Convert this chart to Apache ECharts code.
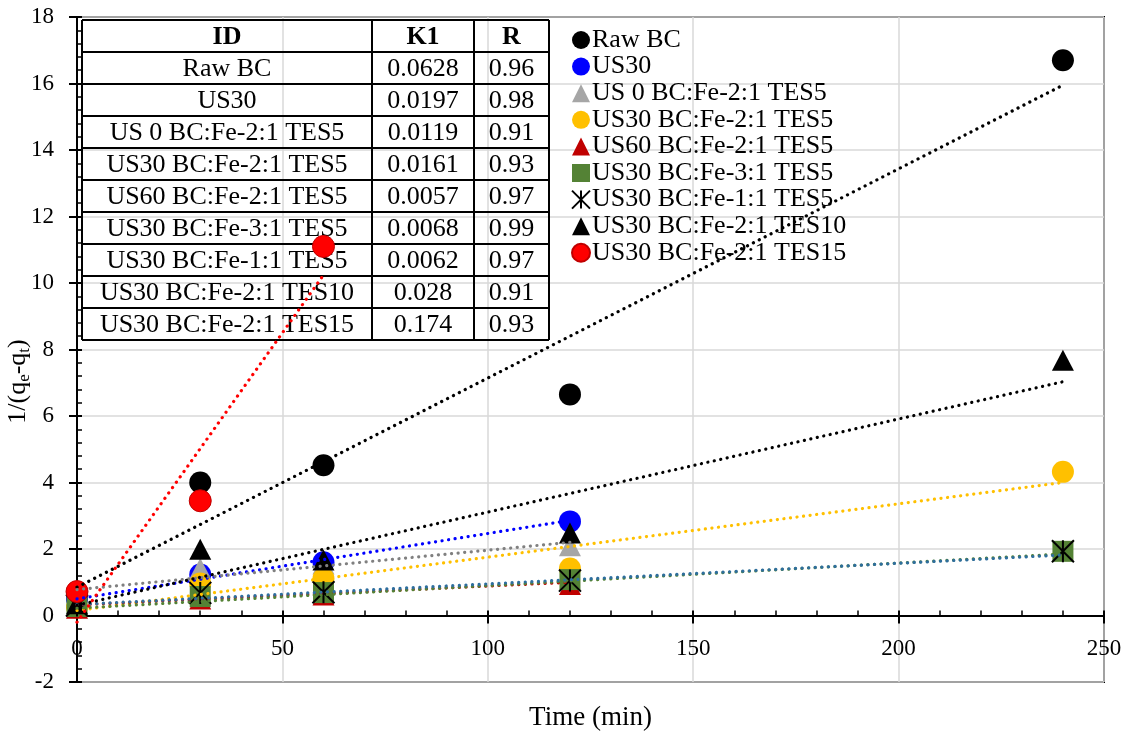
<!DOCTYPE html>
<html><head><meta charset="utf-8">
<script src="https://cdn.jsdelivr.net/npm/echarts@6/dist/echarts.min.js"></script>
<style>html,body{margin:0;padding:0;background:#fff}#c{width:1126px;height:733px}</style>
</head><body><div id="c"></div>
<script>
// ---------- data ----------
const seriesNames = ['Raw BC','US30','US 0 BC:Fe-2:1 TES5','US30 BC:Fe-2:1 TES5','US60 BC:Fe-2:1 TES5','US30 BC:Fe-3:1 TES5','US30 BC:Fe-1:1 TES5','US30 BC:Fe-2:1 TES10','US30 BC:Fe-2:1 TES15'];
const timeFull = [0, 30, 60, 120, 240];
const timeTo120 = [0, 30, 60, 120];
const timeTo60 = [0, 30, 60];
const rawBC = [0.65, 4.0, 4.52, 6.65, 16.7];
const us30 = [0.5, 1.23, 1.6, 2.83];
const us0Fe21Tes5 = [0.6, 1.41, 1.55, 2.1];
const us30Fe21Tes5 = [0.25, 0.96, 1.11, 1.41, 4.32];
const us60Fe21Tes5 = [0.22, 0.5, 0.62, 0.93];
const us30Fe31Tes5 = [0.27, 0.57, 0.69, 1.08, 1.93];
const us30Fe11Tes5 = [0.3, 0.68, 0.7, 1.05, 1.93];
const us30Fe21Tes10 = [0.35, 1.99, 1.67, 2.48, 7.68];
const us30Fe21Tes15 = [0.72, 3.45, 11.1];
// trendline values at first and last time
const trendStart = [0.85, 0.5, 0.78, 0.15, 0.32, 0.22, 0.33, 0.31, -0.2];
const trendEnd = [15.95, 2.86, 2.2, 4.0, 1.0, 1.85, 1.82, 7.03, 10.24];
// table
const tableHeader = ['ID', 'K1', 'R'];
const tableK1 = ['0.0628','0.0197','0.0119','0.0161','0.0057','0.0068','0.0062','0.028','0.174'];
const tableR = ['0.96','0.98','0.91','0.93','0.97','0.99','0.97','0.91','0.93'];
// axis ticks
const xTicks = {min: 0, max: 250, step: 50};
const yTicks = {min: -2, max: 18, step: 2};

// ---------- styles ----------
const FONT = 'Liberation Serif, Times New Roman, serif';
const starPath = 'path://M0,0L20,20M20,0L0,20M10,0L10,20';
const seriesX = [timeFull, timeTo120, timeTo120, timeFull, timeTo120, timeFull, timeFull, timeFull, timeTo60];
const seriesY = [rawBC, us30, us0Fe21Tes5, us30Fe21Tes5, us60Fe21Tes5, us30Fe31Tes5, us30Fe11Tes5, us30Fe21Tes10, us30Fe21Tes15];
const markerStyle = [
  {symbol: 'circle', color: '#000000'},
  {symbol: 'circle', color: '#0000FF'},
  {symbol: 'triangle', color: '#A6A6A6'},
  {symbol: 'circle', color: '#FFC000'},
  {symbol: 'triangle', color: '#C00000'},
  {symbol: 'rect', color: '#548235'},
  {symbol: starPath, color: 'rgba(0,0,0,0)', border: '#000000'},
  {symbol: 'triangle', color: '#000000'},
  {symbol: 'circle', color: '#FF0000', border: '#C00000'}
];
const trendColors = ['#000000','#0000FF','#808080','#FFC000','#C00000','#548235','#2E6E9E','#000000','#FF0000'];

const series = [];
seriesNames.forEach((name, i) => {
  const ms = markerStyle[i];
  series.push({
    name: name, type: 'scatter', z: 2 + i * 0.01,
    symbol: ms.symbol, symbolSize: ms.symbol === 'rect' ? 21 : (ms.symbol === 'triangle' ? [22, 21] : 22),
    itemStyle: {color: ms.color, borderColor: ms.border || ms.color, borderWidth: ms.border ? (ms.symbol === starPath ? 2 : 1) : 0, opacity: 1},
    data: seriesX[i].map((x, k) => [x, seriesY[i][k]])
  });
});
seriesNames.forEach((name, i) => {
  const xs = seriesX[i];
  series.push({
    type: 'line', z: 5, silent: true, symbol: 'none',
    lineStyle: {color: trendColors[i], width: 3.2, type: [0.1, 6.5], cap: 'round'},
    data: [[xs[0], trendStart[i]], [xs[xs.length - 1], trendEnd[i]]]
  });
});

// ---------- table (graphic) ----------
const tb = {top: 20, rowH: 32, cols: [82, 372, 474, 549]};
const gfx = [];
const nRows = seriesNames.length + 1;
for (let r = 0; r <= nRows; r++) {
  gfx.push({type: 'line', z: 1, shape: {x1: tb.cols[0], y1: tb.top + r * tb.rowH, x2: tb.cols[3], y2: tb.top + r * tb.rowH}, style: {stroke: '#000', lineWidth: 2}});
}
tb.cols.forEach(cx => gfx.push({type: 'line', z: 1, shape: {x1: cx, y1: tb.top, x2: cx, y2: tb.top + nRows * tb.rowH}, style: {stroke: '#000', lineWidth: 2}}));
const rowsText = [tableHeader].concat(seriesNames.map((n, i) => [n, tableK1[i], tableR[i]]));
rowsText.forEach((row, r) => {
  row.forEach((t, c) => {
    gfx.push({type: 'text', z: 1, x: (tb.cols[c] + tb.cols[c + 1]) / 2, y: tb.top + r * tb.rowH + tb.rowH / 2 + 1,
      style: {text: t, fill: '#000', font: (r === 0 ? 'bold ' : '') + '26px ' + FONT, align: 'center', verticalAlign: 'middle'}});
  });
});

const axisLabelStyle = {color: '#000', fontSize: 23, fontFamily: FONT};
const option = {
  animation: false,
  backgroundColor: '#fff',
  grid: {left: 77, right: 22, top: 17, bottom: 51, containLabel: false, outerBoundsMode: 'none',
    show: true, borderColor: '#000', borderWidth: 2, backgroundColor: 'transparent'},
  legend: {
    data: seriesNames, orient: 'vertical', left: 566, top: 22, itemWidth: 18, itemHeight: 18, itemGap: 0.6,
    textStyle: {color: '#000', fontSize: 26, fontFamily: FONT, padding: [0, 0, 0, -3]}
  },
  xAxis: [
    // labels, gridlines and title (at grid bottom)
    {type: 'value', min: xTicks.min, max: xTicks.max, interval: xTicks.step, position: 'bottom',
      axisLine: {show: false, onZero: false},
      axisTick: {show: false},
      axisLabel: {...axisLabelStyle, margin: -45},
      splitLine: {show: true, lineStyle: {color: '#D9D9D9', width: 1.5}},
      name: 'Time (min)', nameLocation: 'middle', nameGap: 22, nameMoveOverlap: false,
      nameTextStyle: {color: '#000', fontSize: 27, fontFamily: FONT}},
    // axis line at y = 0 with outside major ticks
    {type: 'value', min: xTicks.min, max: xTicks.max, interval: xTicks.step, position: 'bottom',
      axisLine: {show: true, onZero: true, onZeroAxisIndex: 0, lineStyle: {color: '#000', width: 2}},
      axisTick: {show: true, inside: false, length: 8, lineStyle: {color: '#000', width: 2}},
      axisLabel: {show: false}, splitLine: {show: false}},
    // inside major + minor ticks at y = 0
    {type: 'value', min: xTicks.min, max: xTicks.max, interval: xTicks.step, position: 'bottom',
      axisLine: {show: false, onZero: true, onZeroAxisIndex: 0},
      axisTick: {show: true, inside: true, length: 5, lineStyle: {color: '#000', width: 2}},
      minorTick: {show: true, splitNumber: 5, length: 5, lineStyle: {color: '#000', width: 1.5}},
      axisLabel: {show: false}, splitLine: {show: false}}
  ],
  yAxis: [
    {type: 'value', min: yTicks.min, max: yTicks.max, interval: yTicks.step,
      axisLine: {show: true, onZero: false, lineStyle: {color: '#000', width: 2}},
      axisTick: {show: true, inside: false, length: 8, lineStyle: {color: '#000', width: 2}},
      axisLabel: {...axisLabelStyle, margin: 23},
      splitLine: {show: true, lineStyle: {color: '#D9D9D9', width: 1.5}},
      name: '{n|1/(q}{s|e}{n|-q}{s|t}{n|)}', nameLocation: 'middle', nameGap: 44, nameRotate: 90, nameMoveOverlap: false,
      nameTextStyle: {color: '#000', fontSize: 26, fontFamily: FONT, padding: [0, 64, 0, 0],
        rich: {n: {fontSize: 26, fontFamily: FONT, color: '#000', lineHeight: 30, verticalAlign: 'middle'},
               s: {fontSize: 17, fontFamily: FONT, color: '#000', lineHeight: 14, verticalAlign: 'bottom'}}}},
    {type: 'value', min: yTicks.min, max: yTicks.max, interval: yTicks.step, position: 'left',
      axisLine: {show: false, onZero: false},
      axisTick: {show: true, inside: true, length: 5, lineStyle: {color: '#000', width: 2}},
      minorTick: {show: true, splitNumber: 5, length: 5, lineStyle: {color: '#000', width: 1.5}},
      axisLabel: {show: false}, splitLine: {show: false}}
  ],
  graphic: gfx,
  series: series
};
const chart = echarts.init(document.getElementById('c'), null, {renderer: 'canvas'});
chart.setOption(option);
</script>
</body></html>
